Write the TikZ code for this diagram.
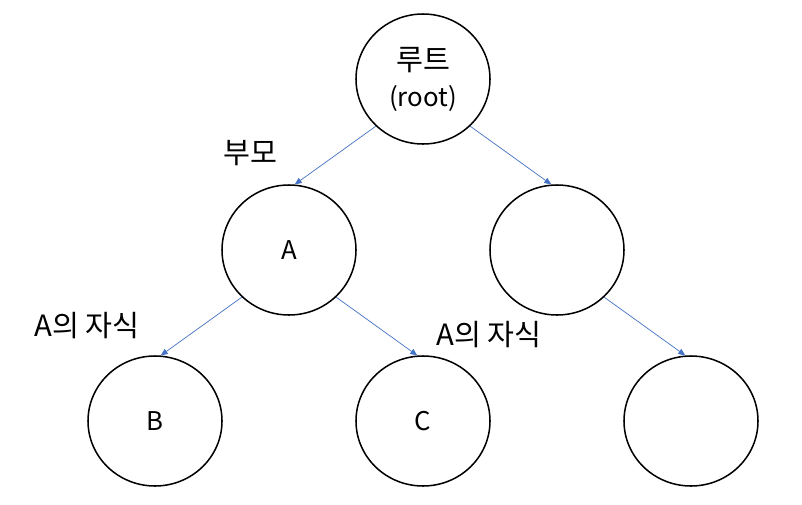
\documentclass[tikz,border=0pt]{standalone}
\usepackage{fontspec}
\setmainfont{Noto Sans CJK KR}
\usetikzlibrary{shapes.geometric,arrows.meta}
\newcommand{\kotext}{\fontsize{25}{30}\selectfont}
\tikzset{
	vert/.style={ellipse,draw,line width=1.3pt,minimum width=134*0.03cm,minimum height=130*0.03cm,inner sep=0pt},
	link/.style={draw={rgb,255:red,68;green,114;blue,196},line width=0.6pt,
		-{Triangle[length=6pt,width=5pt]}},
	lbl/.style={font=\kotext}
}
\begin{document}
\begin{tikzpicture}[x=0.03cm,y=-0.03cm,font=\fontsize{22}{26}\selectfont]
		\useasboundingbox (0,0) rectangle (802,505);
		\path
		(423,79) node[vert] (root) {}
		(289,250) node[vert] (A) {A}
		(557,250) node[vert] (R) {}
		(155,421) node[vert] (B) {B}
		(423,421) node[vert] (C) {C}
		(691,421) node[vert] (RB) {}
		;
		\path
		(423,60) node[lbl] (rootko) {루트}
		(423,98) node (rooten) {(root)}
		(250,153) node[lbl] (parent) {부모}
		(87,326) node[lbl] (childl) {A의 자식}
		(489,335) node[lbl] (childr) {A의 자식}
		;
		\draw[link] (root.225)--(A.85);
		\draw[link] (root.-45)--(R.95);
		\draw[link] (A.225)--(B.85);
		\draw[link] (A.-45)--(C.95);
		\draw[link] (R.-45)--(RB.95);
	
\end{tikzpicture}
\end{document}
